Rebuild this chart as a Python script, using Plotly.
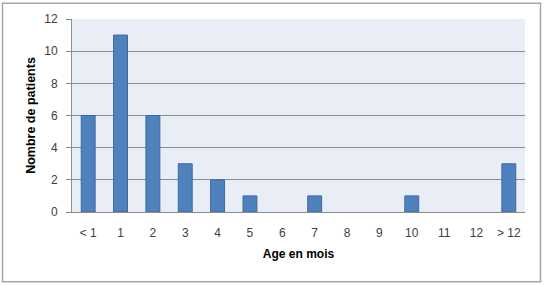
import plotly.graph_objects as go

categories = ["< 1", "1", "2", "3", "4", "5", "6", "7", "8", "9", "10", "11", "12", "> 12"]
patients = [6, 11, 6, 3, 2, 1, 0, 1, 0, 0, 1, 0, 0, 3]
y_ticks = [0, 2, 4, 6, 8, 10, 12]

W, H = 546, 286
ml, mr, mt, mb = 72, 21, 17, 74
pw, ph = W - ml - mr, H - mt - mb

def px_x(p):
    return (p - ml) / pw

def px_y(p):
    return (H - mb - p) / ph

fig = go.Figure(go.Bar(
    x=categories, y=patients,
    marker=dict(color="#4F81BD",
                line=dict(color="#3C6A9E", width=[1 if v > 0 else 0 for v in patients])),
))

fig.update_layout(
    width=W, height=H,
    margin=dict(l=ml, r=mr, t=mt, b=mb),
    paper_bgcolor="white",
    plot_bgcolor="#E9EDF6",
    bargap=0.57,
    showlegend=False,
    font=dict(family="Liberation Sans, Arial, sans-serif", size=12, color="#404040"),
    xaxis=dict(
        type="category", showgrid=False, showline=True, linecolor="#8C8C8C", linewidth=1,
        ticks="", tickfont=dict(size=12, color="#404040"), ticklabelstandoff=10,
        title=dict(text="<b>Age en mois</b>", font=dict(size=12, color="#000000"), standoff=10),
    ),
    yaxis=dict(
        range=[0, 12], tickvals=y_ticks, showgrid=True, gridcolor="#8C8C8C", gridwidth=1,
        showline=True, linecolor="#8C8C8C", linewidth=1, ticks="outside", ticklen=5,
        tickcolor="#8C8C8C", tickfont=dict(size=12, color="#404040"), zeroline=False,
        ticklabelstandoff=6,
        title=dict(text="<b>Nombre de patients</b>", font=dict(size=12.5, color="#000000"), standoff=5),
    ),
    shapes=[dict(
        type="rect", xref="paper", yref="paper",
        x0=px_x(2.5), x1=px_x(540.5), y0=px_y(282.5), y1=px_y(1),
        line=dict(color="#A6A6A6", width=1.5), fillcolor="rgba(0,0,0,0)", layer="below",
    )],
)

fig.write_html("out.html")
